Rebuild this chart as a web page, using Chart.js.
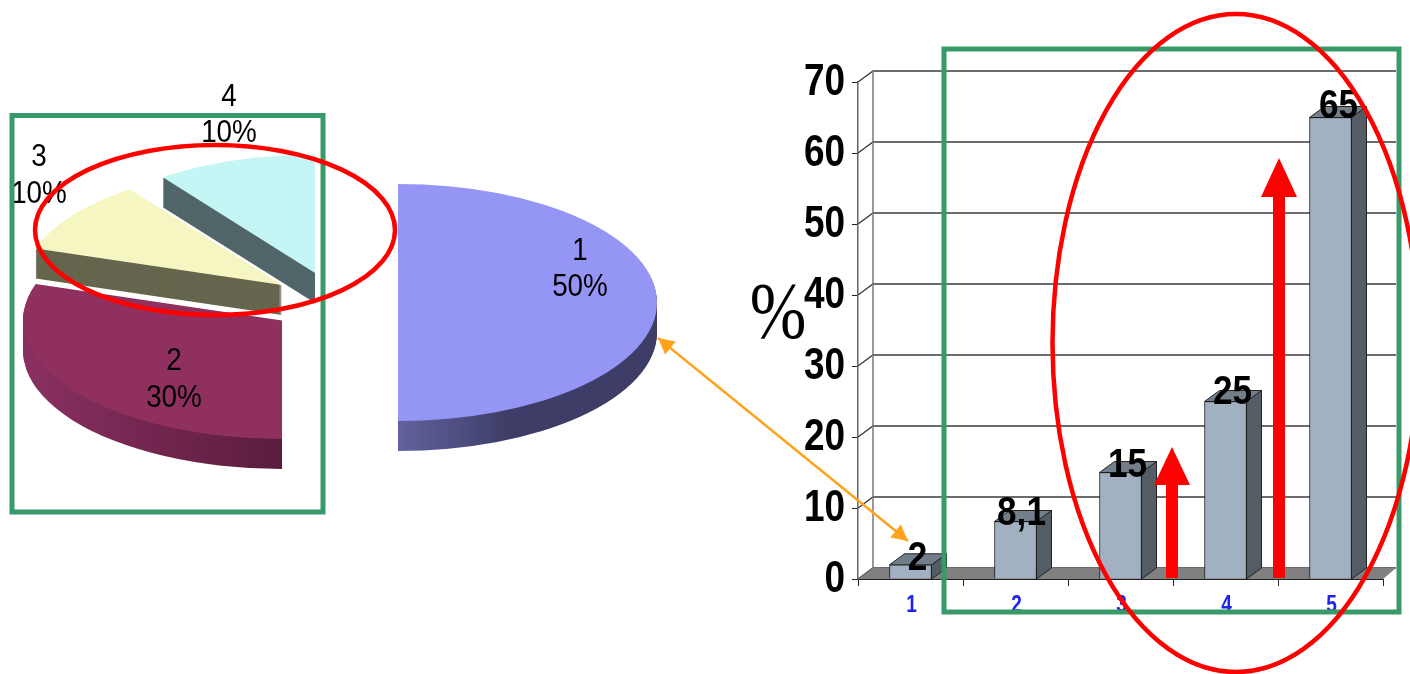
<!DOCTYPE html>
<html>
<head>
<meta charset="utf-8">
<script src="https://cdn.jsdelivr.net/npm/chart.js@4"></script>
<style>
html,body{margin:0;padding:0;background:#fff;width:1410px;height:674px;overflow:hidden}
canvas{position:absolute;left:0;top:0;filter:blur(0.45px)}
</style>
</head>
<body>
<canvas id="pie" width="1410" height="674"></canvas>
<canvas id="bar" width="1410" height="674"></canvas>
<script>
const pieCategories = ['1','2','3','4'];
const pieValues = [50,30,10,10];
const pieTopColors = ['#9595f6','#90305f','#f6f6c3','#c4f6f6'];
const pieWallColors = ['#3d3d67','#6f2549','#66664e','#516668'];
const barCategories = ['1','2','3','4','5'];
const barValues = [2,8.1,15,25,65];
const barLabels = ['2','8,1','15','25','65'];
const yTicks = [0,10,20,30,40,50,60,70];

const SANS = '"Liberation Sans",Arial,sans-serif';
Chart.defaults.animation = false;

/* draw horizontally condensed text, as in the reference */
function squeezed(ctx,text,x,y,font,sx,align){
  ctx.save();
  ctx.font=font; ctx.textAlign=align||'center'; ctx.textBaseline='middle';
  ctx.translate(x,y); ctx.scale(sx,1);
  ctx.fillText(text,0,0);
  ctx.restore();
}

/* layout of the exploded pie: where each slice's apex sits on the page */
const sliceCentres = [[398,302.5],[282,320.5],[282,285],[315,273]];
const squash = 0.4575, depth = 30, pieRadius = 259;
const pieLabelSpots = [[580,250,286],[174,360,397],[39,156,193],[229,96,132]];
const drawOrder = [3,2,0,1];

const piePlugin = {
  id:'exploded3d',
  beforeDatasetsDraw(chart){
    const ctx = chart.ctx, arcs = chart.getDatasetMeta(0).data;
    drawOrder.forEach(i=>{
      const arc = arcs[i], [cx,cy] = sliceCentres[i], orig = arc.options;
      let wall = pieWallColors[i];
      const toUser = px => px - cx + arc.x;
      if(i===0){
        wall = ctx.createLinearGradient(toUser(398),0,toUser(510),0);
        wall.addColorStop(0,'#62629f'); wall.addColorStop(1,'#3d3d67');
      } else if(i===1){
        wall = ctx.createLinearGradient(toUser(24),0,toUser(282),0);
        wall.addColorStop(0,'#8a3060'); wall.addColorStop(1,'#5a1c3e');
      }
      arc.options = Object.assign({},orig,{backgroundColor:wall});
      for(let d=depth;d>0;d--){
        ctx.save();
        ctx.translate(cx,cy+d); ctx.scale(1,squash); ctx.translate(-arc.x,-arc.y);
        arc.draw(ctx);
        ctx.restore();
      }
      arc.options = orig;
      ctx.save();
      ctx.translate(cx,cy); ctx.scale(1,squash); ctx.translate(-arc.x,-arc.y);
      arc.draw(ctx);
      ctx.restore();
    });
    ctx.save();
    ctx.fillStyle='#000';
    pieCategories.forEach((c,i)=>{
      const [x,y1,y2] = pieLabelSpots[i];
      squeezed(ctx,c,x,y1+1,'32px '+SANS,0.87);
      squeezed(ctx,pieValues[i]+'%',x,y2+1,'32px '+SANS,0.87);
    });
    ctx.restore();
    return false;
  }
};

new Chart(document.getElementById('pie'),{
  type:'pie',
  data:{labels:pieCategories,datasets:[{data:pieValues,backgroundColor:pieTopColors,borderWidth:0,radius:pieRadius}]},
  options:{responsive:false,plugins:{legend:{display:false},tooltip:{enabled:false}},events:[]},
  plugins:[piePlugin]
});

const DX=15, DY=11;
const labelNudges = [[7,-6],[6,-8],[7,-7],[7,-9],[8,-11]];
const bar3d = {
  id:'bar3d',
  beforeDatasetsDraw(chart){
    const ctx=chart.ctx, y=chart.scales.y, a=chart.chartArea;
    ctx.save();
    ctx.strokeStyle='#3c3c3c'; ctx.lineWidth=1.4;
    y.ticks.forEach(t=>{
      const p=y.getPixelForValue(t.value);
      ctx.beginPath();
      ctx.moveTo(a.left,p); ctx.lineTo(a.left+DX,p-DY); ctx.lineTo(a.right+DX-2,p-DY);
      ctx.stroke();
    });
    ctx.strokeStyle='#777'; ctx.lineWidth=1.5;
    ctx.beginPath(); ctx.moveTo(a.left+DX,y.getPixelForValue(70)-DY); ctx.lineTo(a.left+DX,y.getPixelForValue(0)-DY); ctx.stroke();
    const p0=y.getPixelForValue(0);
    ctx.fillStyle='#808080';
    ctx.beginPath(); ctx.moveTo(a.left,p0); ctx.lineTo(a.left+DX,p0-DY); ctx.lineTo(a.right+DX-2,p0-DY); ctx.lineTo(a.right,p0); ctx.closePath(); ctx.fill();
    chart.getDatasetMeta(0).data.forEach(b=>{
      const l=b.x-b.width/2, r=b.x+b.width/2, t=b.y;
      ctx.lineWidth=1; ctx.strokeStyle='#222';
      ctx.fillStyle='#545c66';
      ctx.beginPath(); ctx.moveTo(r,t); ctx.lineTo(r+DX,t-DY); ctx.lineTo(r+DX,p0-DY); ctx.lineTo(r,p0); ctx.closePath(); ctx.fill(); ctx.stroke();
      ctx.fillStyle='#727e8a';
      ctx.beginPath(); ctx.moveTo(l,t); ctx.lineTo(l+DX,t-DY); ctx.lineTo(r+DX,t-DY); ctx.lineTo(r,t); ctx.closePath(); ctx.fill(); ctx.stroke();
    });
    ctx.restore();
  },
  afterDatasetsDraw(chart){
    const ctx=chart.ctx, ys=chart.scales.y, xs=chart.scales.x;
    ctx.save();
    ctx.fillStyle='#000';
    chart.getDatasetMeta(0).data.forEach((b,i)=>{
      squeezed(ctx,barLabels[i],b.x+labelNudges[i][0],b.y+labelNudges[i][1],'bold 40px '+SANS,0.88);
    });
    // y axis tick labels from the library's scale
    ys.ticks.forEach(t=>{
      squeezed(ctx,String(t.value),845,ys.getPixelForValue(t.value)+1,'bold 44px '+SANS,0.84,'right');
    });
    // x axis tick labels from the library's scale
    ctx.fillStyle='#2222ee';
    xs.ticks.forEach((t,i)=>{
      squeezed(ctx,xs.getLabelForValue(t.value),xs.getPixelForTick(i)+1,606,'bold 23px '+SANS,0.83);
    });
    // percent axis caption
    ctx.fillStyle='#000';
    squeezed(ctx,'%',778,317,'80px "Liberation Serif","Times New Roman",serif',0.85);
    ctx.restore();
  },
  afterDraw(chart){
    const ctx=chart.ctx;
    ctx.save();
    ctx.strokeStyle='#389a68'; ctx.lineWidth=5;
    ctx.strokeRect(12,115.5,311,396.5);
    ctx.strokeRect(944,49,455,563);
    const A=[658,338], B=[908,541], ang=Math.atan2(B[1]-A[1],B[0]-A[0]);
    ctx.strokeStyle='#ffa31a'; ctx.fillStyle='#ffa31a'; ctx.lineWidth=2.5;
    ctx.beginPath(); ctx.moveTo(A[0],A[1]); ctx.lineTo(B[0],B[1]); ctx.stroke();
    [[A,ang],[B,ang+Math.PI]].forEach(([P,t])=>{
      ctx.beginPath(); ctx.moveTo(P[0],P[1]);
      ctx.lineTo(P[0]+Math.cos(t+0.48)*18,P[1]+Math.sin(t+0.48)*18);
      ctx.lineTo(P[0]+Math.cos(t-0.48)*18,P[1]+Math.sin(t-0.48)*18);
      ctx.closePath(); ctx.fill();
    });
    ctx.strokeStyle='#ff0000'; ctx.lineWidth=4.5;
    ctx.beginPath(); ctx.ellipse(215,230,180,85,0,0,Math.PI*2); ctx.stroke();
    ctx.beginPath(); ctx.ellipse(1236,343,183.5,329,0,0,Math.PI*2); ctx.stroke();
    ctx.fillStyle='#ff0000';
    [[1172,578,485,447],[1279,578,197,158]].forEach(([x,y0,yb,yt])=>{
      ctx.fillRect(x-6,yb,12,y0-yb);
      ctx.beginPath(); ctx.moveTo(x-18,yb); ctx.lineTo(x+18,yb); ctx.lineTo(x,yt); ctx.closePath(); ctx.fill();
    });
    ctx.restore();
  }
};

new Chart(document.getElementById('bar'),{
  type:'bar',
  data:{labels:barCategories,datasets:[{data:barValues,backgroundColor:'#a2b1c1',borderColor:'#222',borderWidth:1,barThickness:42}]},
  options:{
    responsive:false,events:[],
    layout:{padding:{left:700,right:27,top:82,bottom:0}},
    plugins:{legend:{display:false},tooltip:{enabled:false}},
    scales:{
      x:{
        grid:{drawOnChartArea:false,drawTicks:true,tickLength:7,color:'#222'},
        border:{color:'#222',width:1},
        ticks:{display:false,autoSkip:false},
        afterFit(s){s.height=95;}
      },
      y:{
        min:0,max:70,
        afterBuildTicks(s){s.ticks=yTicks.map(v=>({value:v}));},
        grid:{drawOnChartArea:false,drawTicks:true,tickLength:6,color:'#222'},
        border:{color:'#666',width:1.5},
        ticks:{display:false},
        afterFit(s){s.width=158;}
      }
    }
  },
  plugins:[bar3d]
});
</script>
</body>
</html>
